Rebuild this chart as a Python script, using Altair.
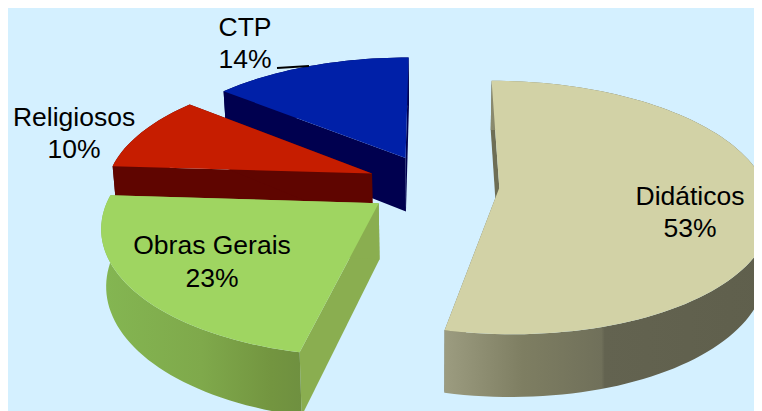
import math
import altair as alt
import pandas as pd

# --- data ---
names = ["Didáticos", "Obras Gerais", "Religiosos", "CTP"]
shares = [53.4, 22.6, 10.0, 14.0]
label_pct = ["53%", "23%", "10%", "14%"]

# --- style ---
top_colors = ["#D2D2A6", "#9FD561", "#C61D00", "#0020A8"]
radial_colors = ["#6E6E55", "#8AAE50", "#5F0500", "#00004F"]
outer_stops = [
    [(0, "#9C9C80"), (0.24, "#7E7E62"), (0.48, "#70705A"), (0.49, "#636350"), (1, "#5F5F4C")],
    [(0, "#84B652"), (0.5, "#7FA94B"), (0.85, "#739540"), (1, "#6F9040")],
    [(0, "#5F0500"), (1, "#5F0500")],
    [(0, "#00004F"), (1, "#00004F")],
]
label_x = [690, 212, 74, 245]
label_y1 = [205, 254, 126, 36]
label_y2 = [237, 287, 158, 68]
FONT = "Liberation Sans"
BG = "#D4F0FF"

# --- projection of the exploded pie (page pixels) ---
CX, CY, A, EXPL = 433, 184.4, 265.6, 0.25
B_BACK, K_BACK, B_FRONT, K_FRONT = 120, 0.13, 122, 0.16
DROP, DROP_K, BOTTOM_SCALE = 55, 0.12, 0.985


def project(px, py, bottom=False):
    k, b = (K_BACK, B_BACK) if py > 0 else (K_FRONT, B_FRONT)
    d = 1 + k * py
    X, Y = A * px / d, -b * py / d
    if bottom:
        X *= BOTTOM_SCALE
        Y += DROP / (1 + DROP_K * py)
    return CX + X, CY + Y


xs = alt.Scale(domain=[8, 754])
ys = alt.Scale(domain=[411, 8])


def poly(points, fill):
    df = pd.DataFrame(points, columns=["x", "y"])
    df["o"] = range(len(df))
    return alt.Chart(df).mark_line(fill=fill, strokeOpacity=0, interpolate="linear", clip=True).encode(
        x=alt.X("x:Q", scale=xs, axis=None),
        y=alt.Y("y:Q", scale=ys, axis=None),
        order="o:O",
    )


starts = []
t = 0.0
for s in shares:
    starts.append(t)
    t += s * 3.6

layers_by_slice = []
for i, s in enumerate(shares):
    a0 = math.radians(starts[i])
    a1 = math.radians(starts[i] + s * 3.6)
    b = (a0 + a1) / 2
    ox, oy = EXPL * math.sin(b), EXPL * math.cos(b)
    n = max(12, int(s * 2))
    arc = [(ox + math.sin(a0 + (a1 - a0) * j / n), oy + math.cos(a0 + (a1 - a0) * j / n)) for j in range(n + 1)]
    top_arc = [project(*p) for p in arc]
    bot_arc = [project(*p, bottom=True) for p in arc]
    apex_t, apex_b = project(ox, oy), project(ox, oy, True)
    grad = {
        "gradient": "linear",
        "x1": 0, "x2": 1, "y1": 0, "y2": 0,
        "stops": [{"offset": o, "color": c} for o, c in outer_stops[i]],
    }
    group = [
        poly([apex_t, top_arc[0], bot_arc[0], apex_b], radial_colors[i]),
        poly([apex_t, top_arc[-1], bot_arc[-1], apex_b], radial_colors[i]),
        poly(top_arc + bot_arc[::-1], grad),
        poly([apex_t] + top_arc, top_colors[i]),
    ]
    layers_by_slice.append(group)

# back to front: CTP, Religiosos, Obras Gerais, Didáticos
layers = []
for i in [3, 2, 1, 0]:
    layers.extend(layers_by_slice[i])

labels = pd.DataFrame(
    [{"t": names[i], "x": label_x[i], "y": label_y1[i]} for i in range(4)]
    + [{"t": label_pct[i], "x": label_x[i], "y": label_y2[i]} for i in range(4)]
)
text = alt.Chart(labels).mark_text(
    font=FONT, fontSize=26.5, align="center", baseline="alphabetic", color="#000000"
).encode(
    x=alt.X("x:Q", scale=xs, axis=None),
    y=alt.Y("y:Q", scale=ys, axis=None),
    text="t:N",
)

leader_df = pd.DataFrame({"x": [277, 309], "y": [68, 66]})
leader = alt.Chart(leader_df).mark_line(color="#000000", strokeWidth=1.8).encode(
    x=alt.X("x:Q", scale=xs, axis=None),
    y=alt.Y("y:Q", scale=ys, axis=None),
)

chart = alt.layer(*layers, leader, text).properties(
    width=746, height=403, padding=0, background=BG,
    autosize=alt.AutoSizeParams(type="none"),
).configure_view(stroke=None)

chart.save("out.html", embed_options={"renderer": "svg", "actions": False})
